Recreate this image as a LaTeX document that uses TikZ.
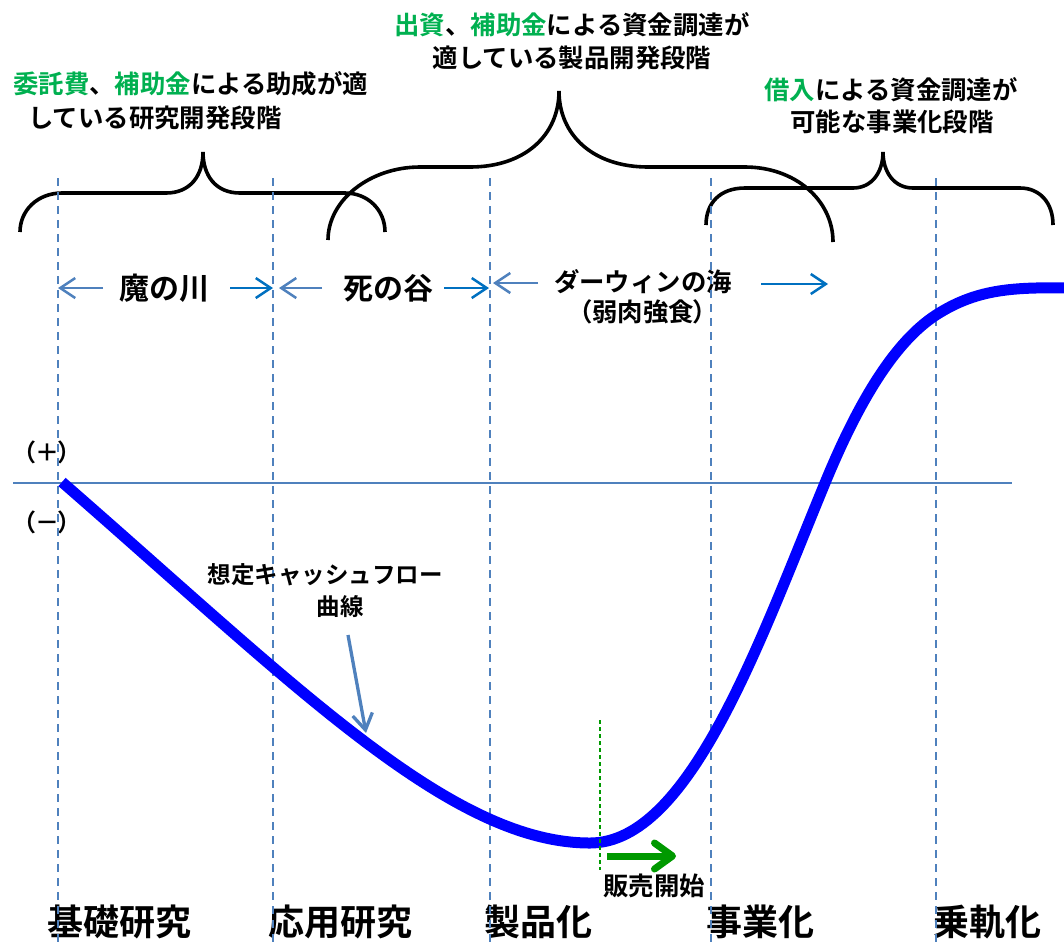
\documentclass[tikz,border=0pt]{standalone}
\usepackage{fontspec}
\newfontfamily\jpb{Noto Sans CJK JP Bold}
\newfontfamily\jpbp{Noto Sans CJK JP Bold}[RawFeature=+palt]
\usetikzlibrary{arrows.meta}
\definecolor{tgreen}{RGB}{0,176,80}
\definecolor{steel}{RGB}{79,129,189}
\definecolor{rblue}{RGB}{0,112,192}
\definecolor{cfblue}{RGB}{0,0,255}
\definecolor{sgreen}{RGB}{0,153,0}
\begin{document}
\begin{tikzpicture}[x=1pt,y=-1pt,
  lbl/.style={inner sep=0, font=\jpb\fontsize{25.4}{30}\selectfont},
  cflbl/.style={inner sep=0, font=\jpb\fontsize{23.5}{28}\selectfont},
  big/.style={inner sep=0, font=\jpb\fontsize{36}{40}\selectfont},
  mid/.style={inner sep=0, font=\jpb\fontsize{30}{34}\selectfont},
  sgn/.style={inner sep=0, font=\jpbp\fontsize{24}{28}\selectfont},
  vline/.style={steel, line width=1.8pt, dash pattern=on 8pt off 6pt},
  gline/.style={sgreen, line width=1.4pt, dash pattern=on 4pt off 3pt},
  brace/.style={black, line width=3.6pt},
  larr/.style={steel, line width=2.5pt, -{Straight Barb[length=15pt,width=20pt]}},
  rarr/.style={rblue, line width=2.5pt, -{Straight Barb[length=15pt,width=20pt]}},
  cfarr/.style={steel, line width=3.3pt, -{Straight Barb[length=16pt,width=20pt]}},
  garr/.style={sgreen, line width=7pt, -{Straight Barb[length=18pt,width=26pt,round]}},
  axisline/.style={steel, line width=2.5pt},
  cfcurve/.style={cfblue, line width=11pt}]
\useasboundingbox (0,0) rectangle (1064,946);

% ---- top texts
\node[lbl, anchor=west] (t1a) at (13,84) {{\color{tgreen}委託費}、{\color{tgreen}補助金}による助成が適};
\node[lbl, anchor=west] (t1b) at (28,118) {している研究開発段階};
\node[lbl] (t2a) at (572,25) {{\color{tgreen}出資}、{\color{tgreen}補助金}による資金調達が};
\node[lbl] (t2b) at (572,58) {適している製品開発段階};
\node[lbl] (t3a) at (891,90) {{\color{tgreen}借入}による資金調達が};
\node[lbl] (t3b) at (892,122) {可能な事業化段階};

% ---- braces
\draw[brace] (20,232) .. controls (20,210) and (38,193) .. (62,193) -- (166,193)
  .. controls (190,193) and (203,176) .. (203,152)
  .. controls (203,176) and (216,193) .. (240,193) -- (345,193)
  .. controls (368,193) and (385,210) .. (385,232);
\draw[brace] (328,240) .. controls (328,200) and (370,167) .. (420,167) -- (470,167)
  .. controls (525,167) and (559,135) .. (559,91)
  .. controls (559,135) and (593,167) .. (648,167) -- (745,167)
  .. controls (795,167) and (833,200) .. (833,242);
\draw[brace] (706,225) .. controls (706,203) and (720,188) .. (745,188) -- (853,188)
  .. controls (872,188) and (883,172) .. (883,152)
  .. controls (883,172) and (894,188) .. (913,188) -- (1020,188)
  .. controls (1040,188) and (1053,203) .. (1053,225);

% ---- phase labels
\node[mid] (kawa) at (164,288) {魔の川};
\node[mid] (tani) at (388,288) {死の谷};
\node[lbl] (umi) at (643,282) {ダーウィンの海};
\node[lbl, font=\jpbp\fontsize{25.4}{30}\selectfont] (umi2) at (643,312) {（弱肉強食）};

% ---- bottom labels
\node[big] (b1) at (119,922) {基礎研究};
\node[big] (b2) at (340,922) {応用研究};
\node[big] (b3) at (538,922) {製品化};
\node[big] (b4) at (760,922) {事業化};
\node[big] (b5) at (987,922) {乗軌化};

% ---- sign labels
\node[sgn] (plus) at (47,452) {（＋）};
\node[sgn] (minus) at (47,522) {（－）};

% ---- vertical dashed lines
\foreach \i/\x in {1/58,2/273,3/490,4/711,5/936}{
  \coordinate (v\i t) at (\x,178);
  \coordinate (v\i b) at (\x,946);
  \draw[vline] (v\i t) -- (v\i b);
}

% ---- phase arrows
\coordinate (a1s) at (103,288); \coordinate (a1e) at (58,288);
\coordinate (a2s) at (230,288); \coordinate (a2e) at (273,288);
\coordinate (a3s) at (322,288); \coordinate (a3e) at (279,288);
\coordinate (a4s) at (444,288); \coordinate (a4e) at (489,288);
\coordinate (a5s) at (538,283); \coordinate (a5e) at (493,283);
\coordinate (a6s) at (761,284); \coordinate (a6e) at (828,284);
\draw[larr] (a1s) -- (a1e);
\draw[rarr] (a2s) -- (a2e);
\draw[larr] (a3s) -- (a3e);
\draw[rarr] (a4s) -- (a4e);
\draw[larr] (a5s) -- (a5e);
\draw[rarr] (a6s) -- (a6e);

% ---- axis
\coordinate (ax1) at (13,483);
\coordinate (ax2) at (1012,483);
\draw[axisline] (ax1) -- (ax2);

% ---- cash flow curve
\coordinate (c0) at (62,482);
\coordinate (c1) at (590,843);
\coordinate (c2) at (825,483);
\coordinate (c3) at (936,315);
\coordinate (c4) at (1066,288);
\draw[cfcurve] (c0) .. controls (295,685) and (450,843) .. (c1)
  .. controls (690,843) and (760,640) .. (c2)
  .. controls (860,398) and (896,341) .. (c3)
  .. controls (975,290) and (1010,287) .. (c4);

% ---- callout
\node[cflbl] (cf1) at (325,575) {想定キャッシュフロー};
\node[cflbl] (cf2) at (340,607) {曲線};
\coordinate (cfs) at (348,635);
\coordinate (cfe) at (366,733);
\draw[cfarr] (cfs) -- (cfe);

% ---- sales start
\coordinate (g1) at (600,720);
\coordinate (g2) at (600,870);
\draw[gline] (g1) -- (g2);
\coordinate (gs) at (607,856);
\coordinate (ge) at (676,856);
\draw[garr] (gs) -- (ge);
\node[lbl] (sale) at (654,886) {販売開始};
\end{tikzpicture}
\end{document}
